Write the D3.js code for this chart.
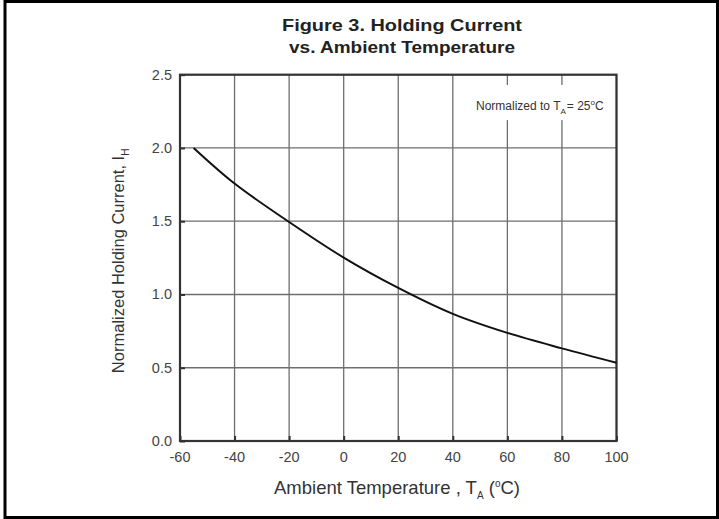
<!DOCTYPE html>
<meta charset="utf-8">
<style>
    body { margin: 0; background-color: #fff; }
    svg { font-family: "Liberation Sans", Arial, sans-serif; }
    .grid line { stroke: #6e6e6e; stroke-width: 1.3px; }
    .tick-label { fill: #444; font-size: 14.5px; }
</style>
<svg width="719" height="519"></svg>
<script src="https://d3js.org/d3.v7.min.js"></script>
<script>
    var temps   = [-55, -40, -20, 0, 20, 40, 60, 80, 100];
    var current = [2.0, 1.757, 1.495, 1.252, 1.045, 0.868, 0.738, 0.632, 0.534];
    var xTicks  = [-60, -40, -20, 0, 20, 40, 60, 80, 100];
    var yTicks  = [0.0, 0.5, 1.0, 1.5, 2.0, 2.5];

    var svg = d3.select("svg"),
        margin = {top: 74.7, left: 180, right: 102.5, bottom: 78},
        width = +svg.attr("width") - margin.left - margin.right,
        height = +svg.attr("height") - margin.top - margin.bottom;

    // outer frame
    svg.append("rect")
        .attr("x", 5).attr("y", 1.5)
        .attr("width", 712.5).attr("height", 516)
        .attr("fill", "none").attr("stroke", "#000").attr("stroke-width", 3);

    var x = d3.scaleLinear().domain([-60, 100]).range([0, width]);
    var y = d3.scaleLinear().domain([0, 2.5]).range([height, 0]);

    var g = svg.append("g")
        .attr("transform", "translate(" + margin.left + "," + margin.top + ")");

    var grid = g.append("g").attr("class", "grid");
    grid.selectAll(".vx")
        .data(xTicks)
        .enter().append("line")
        .attr("x1", function(d) { return x(d); })
        .attr("x2", function(d) { return x(d); })
        .attr("y1", 0).attr("y2", height);
    grid.selectAll(".hy")
        .data(yTicks)
        .enter().append("line")
        .attr("y1", function(d) { return y(d); })
        .attr("y2", function(d) { return y(d); })
        .attr("x1", 0).attr("x2", width);

    // short inward tick marks
    g.append("g")
        .attr("transform", "translate(0," + height + ")")
        .call(d3.axisBottom(x).tickValues(xTicks).tickSize(-5).tickFormat(""))
        .call(function(s) {
            s.select(".domain").remove();
            s.selectAll("line").attr("stroke", "#333").attr("stroke-width", 2);
        });
    g.append("g")
        .call(d3.axisLeft(y).tickValues(yTicks).tickSize(-5).tickFormat(""))
        .call(function(s) {
            s.select(".domain").remove();
            s.selectAll("line").attr("stroke", "#333").attr("stroke-width", 2);
        });

    // annotation box (white, cuts the gridlines)
    var note = g.append("g");
    note.append("rect")
        .attr("x", x(48)).attr("y", y(2.43))
        .attr("width", x(97) - x(48)).attr("height", y(2.19) - y(2.43))
        .attr("fill", "#fff");
    var nt = note.append("text")
        .attr("x", x(95.3)).attr("y", 35.5)
        .attr("text-anchor", "end")
        .attr("fill", "#333")
        .style("font-size", "12px");
    nt.append("tspan").text("Normalized to T");
    nt.append("tspan").attr("dy", 4).style("font-size", "8px").text("A");
    nt.append("tspan").attr("dy", -4).attr("dx", 1).text("= 25");
    nt.append("tspan").attr("dy", -5).style("font-size", "8px").text("o");
    nt.append("tspan").attr("dy", 5).text("C");

    // plot frame
    g.append("rect")
        .attr("width", width).attr("height", height)
        .attr("fill", "none").attr("stroke", "#333").attr("stroke-width", 2.2);

    var data = temps.map(function(t, i) { return {t: t, v: current[i]}; });
    var line = d3.line()
        .x(function(d) { return x(d.t); })
        .y(function(d) { return y(d.v); })
        .curve(d3.curveCatmullRom);
    g.append("path")
        .datum(data)
        .attr("fill", "none")
        .attr("stroke", "#111")
        .attr("stroke-width", 2)
        .attr("d", line);

    // tick labels
    g.selectAll(".xl")
        .data(xTicks)
        .enter().append("text")
        .attr("class", "tick-label")
        .attr("x", function(d) { return x(d); })
        .attr("y", height + 21.5)
        .attr("text-anchor", "middle")
        .text(function(d) { return d; });
    g.selectAll(".yl")
        .data(yTicks)
        .enter().append("text")
        .attr("class", "tick-label")
        .attr("x", -8)
        .attr("y", function(d) { return y(d) + 5; })
        .attr("text-anchor", "end")
        .text(function(d) { return d.toFixed(1); });

    // title
    svg.append("text")
        .attr("x", 402).attr("y", 31)
        .attr("text-anchor", "middle")
        .attr("textLength", 240).attr("lengthAdjust", "spacingAndGlyphs")
        .style("font-weight", "bold").style("font-size", "16.5px").attr("fill", "#222")
        .text("Figure 3. Holding Current");
    svg.append("text")
        .attr("x", 402).attr("y", 53)
        .attr("text-anchor", "middle")
        .attr("textLength", 226).attr("lengthAdjust", "spacingAndGlyphs")
        .style("font-weight", "bold").style("font-size", "16.5px").attr("fill", "#222")
        .text("vs. Ambient Temperature");

    // x axis title
    var xt = svg.append("text")
        .attr("x", 397).attr("y", 494)
        .attr("text-anchor", "middle")
        .attr("fill", "#333")
        .style("font-size", "18.5px");
    xt.append("tspan").text("Ambient Temperature , T");
    xt.append("tspan").attr("dy", 5).style("font-size", "10px").text("A");
    xt.append("tspan").attr("dy", -5).text(" (");
    xt.append("tspan").attr("dy", -7).style("font-size", "10px").text("o");
    xt.append("tspan").attr("dy", 7).text("C)");

    // y axis title
    var yt = svg.append("text")
        .attr("transform", "translate(124," + (margin.top + height / 2 + 3) + ") rotate(-90)")
        .attr("text-anchor", "middle")
        .attr("fill", "#333")
        .style("font-size", "16.5px");
    yt.append("tspan").text("Normalized Holding Current, I");
    yt.append("tspan").attr("dy", 5).style("font-size", "10px").text("H");
</script>
